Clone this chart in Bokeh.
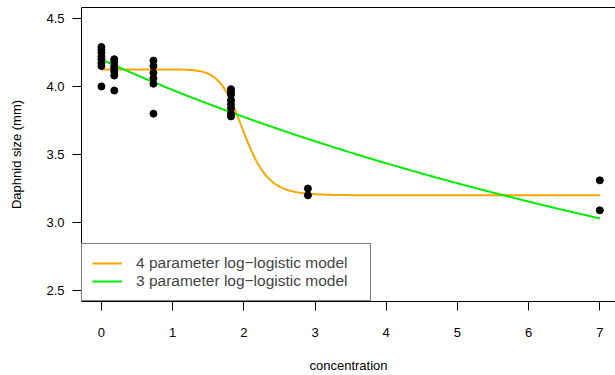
import numpy as np
from bokeh.plotting import figure
from bokeh.models import (ColumnDataSource, FixedTicker, PrintfTickFormatter, LinearAxis,
                          Range1d, Legend, LegendItem)
from bokeh.embed import file_html
from bokeh.resources import INLINE

# ---- data ----
conc = [0]*8 + [0.18]*7 + [0.73]*6 + [1.82]*8 + [2.9]*2 + [7]*2
size = [4.29, 4.27, 4.25, 4.22, 4.20, 4.17, 4.15, 4.00,
        4.20, 4.18, 4.15, 4.13, 4.11, 4.08, 3.97,
        4.19, 4.15, 4.10, 4.06, 4.02, 3.80,
        3.98, 3.96, 3.94, 3.90, 3.87, 3.84, 3.80, 3.78,
        3.25, 3.20,
        3.31, 3.09]

# fitted model parameters (estimated from the drawn curves)
ll4_params = {"b": 11.6, "c": 3.20, "d": 4.125, "e": 2.0}
ll3_params = {"b": 0.985, "d": 4.20, "e": 18.4}

x_ticks = [0, 1, 2, 3, 4, 5, 6, 7]
y_ticks = [2.5, 3.0, 3.5, 4.0, 4.5]
legend_labels = ["4 parameter log\u2212logistic model", "3 parameter log\u2212logistic model"]
x_title = "concentration"
y_title = "Daphnid size (mm)"

FONT = "Liberation Sans"

xg = np.linspace(0, 7, 600)
y4 = ll4_params["c"] + (ll4_params["d"] - ll4_params["c"]) / (1 + (xg / ll4_params["e"]) ** ll4_params["b"])
y3 = ll3_params["d"] / (1 + (xg / ll3_params["e"]) ** ll3_params["b"])

p = figure(width=615, height=375, output_backend="svg", toolbar_location=None,
           x_range=Range1d(-0.28, 7.22), y_range=Range1d(2.42, 4.58),
           min_border_left=81, min_border_right=0, min_border_top=7, min_border_bottom=73)
p.xgrid.visible = False
p.ygrid.visible = False
p.outline_line_color = None
p.background_fill_color = "white"
p.border_fill_color = "white"

src4 = ColumnDataSource(dict(x=xg, y=y4))
src3 = ColumnDataSource(dict(x=xg, y=y3))
r4 = p.line("x", "y", source=src4, line_color="orange", line_width=2)
r3 = p.line("x", "y", source=src3, line_color="#00EE00", line_width=2)
p.scatter(conc, size, size=7, color="black")

for ax in (p.xaxis[0], p.yaxis[0]):
    ax.axis_line_color = "black"
    ax.axis_line_width = 1
    ax.major_tick_line_color = "black"
    ax.major_tick_out = 9
    ax.major_tick_in = 0
    ax.minor_tick_out = 0
    ax.minor_tick_in = 0
    ax.major_label_text_font = FONT
    ax.major_label_text_font_size = "13px"
    ax.major_label_text_color = "black"
    ax.axis_label_text_font = FONT
    ax.axis_label_text_font_size = "13px"
    ax.axis_label_text_font_style = "normal"
    ax.axis_label_text_color = "black"

p.xaxis.ticker = FixedTicker(ticks=x_ticks)
p.xaxis.formatter = PrintfTickFormatter(format="%d")
p.xaxis.major_label_standoff = 17
p.xaxis.axis_label = x_title
p.xaxis.axis_label_standoff = 18

p.yaxis.ticker = FixedTicker(ticks=y_ticks)
p.yaxis.formatter = PrintfTickFormatter(format="%.1f")
p.yaxis.major_label_standoff = 8
p.yaxis.major_label_orientation = "horizontal"
p.yaxis.axis_label = y_title
p.yaxis.axis_label_standoff = 19

top = LinearAxis(ticker=FixedTicker(ticks=[]), major_tick_out=0, major_tick_in=0,
                 minor_tick_out=0, minor_tick_in=0, major_label_text_font_size="0px",
                 axis_line_color="black")
p.add_layout(top, "above")

legend = Legend(items=[LegendItem(label=legend_labels[0], renderers=[r4]),
                       LegendItem(label=legend_labels[1], renderers=[r3])],
                location="bottom_left", margin=0, padding=10, spacing=0,
                glyph_width=30, glyph_height=18, label_height=18, label_width=224,
                label_standoff=14, label_text_font=FONT, label_text_font_size="15.5px",
                border_line_color="black", border_line_width=1,
                background_fill_color="white", background_fill_alpha=1.0)
p.add_layout(legend, "center")

open("out.html", "w").write(file_html(p, INLINE))
